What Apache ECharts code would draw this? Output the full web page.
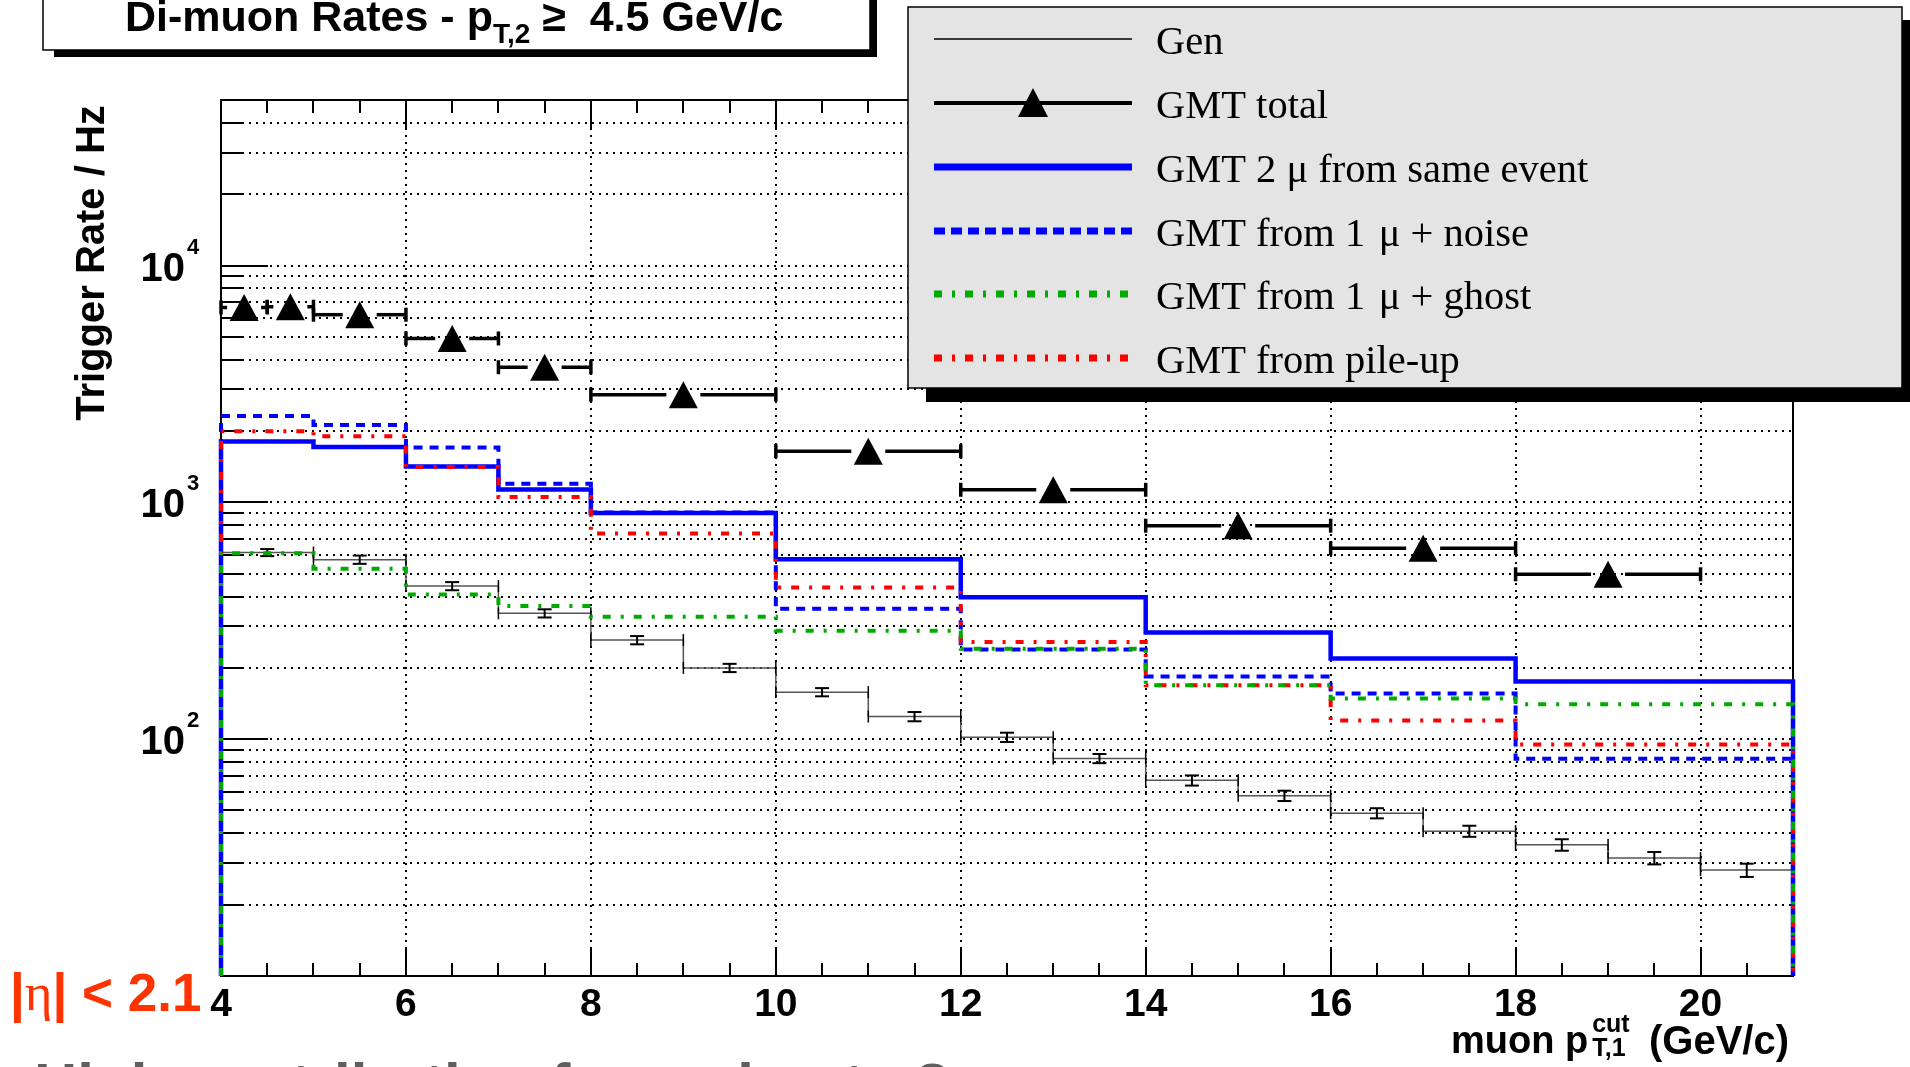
<!DOCTYPE html>
<html>
<head>
<meta charset="utf-8">
<script src="https://cdn.jsdelivr.net/npm/echarts@6/dist/echarts.min.js"></script>
<style>
  html, body { margin: 0; padding: 0; background: #fff; }
  #chart { width: 1910px; height: 1067px; }
</style>
</head>
<body>
<div id="chart"></div>
<script>
// GMT component histograms share these bin edges (GeV/c)
const binEdges = [4, 5, 6, 7, 8, 10, 12, 14, 16, 18, 21];
const sameEvent = [1807, 1711, 1418, 1134, 902, 575, 397, 282, 219, 175];
const muNoise   = [2315, 2121, 1705, 1199, 905, 355, 239, 184, 156, 82.6];
const muGhost   = [610, 524, 408, 365, 329, 287, 241, 169, 148.5, 140.5];
const pileUp    = [1995, 1900, 1409, 1053, 738, 437, 257, 169, 120, 95];

// generator level, 1 GeV bins
const genEdges = [4, 5, 6, 7, 8, 9, 10, 11, 12, 13, 14, 15, 16, 17, 18, 19, 20, 21];
const genRate  = [614, 573, 443, 340, 262, 200, 158, 124.6, 101.9, 82.9, 67.0, 57.7, 48.7, 40.9, 35.8, 31.5, 28.0];
const genErr   = [21, 23, 17.5, 13.5, 10.5, 8, 6.3, 5.6, 4.6, 3.7, 3.3, 2.9, 2.4, 2.2, 2.0, 1.9, 1.8];

// GMT total points with x error bars
const totalX    = [4.25, 4.75, 5.5, 6.5, 7.5, 9, 11, 13, 15, 17, 19];
const totalXErr = [0.25, 0.25, 0.5, 0.5, 0.5, 1, 1, 1, 1, 1, 1];
const totalRate = [6650, 6700, 6200, 4920, 3720, 2850, 1645, 1130, 797, 640, 497];

// axis ticks
const xMajorTicks = [4, 6, 8, 10, 12, 14, 16, 18, 20];
const xMinorTicks = [4.5, 5, 5.5, 6.5, 7, 7.5, 8.5, 9, 9.5, 10.5, 11, 11.5, 12.5, 13, 13.5,
                     14.5, 15, 15.5, 16.5, 17, 17.5, 18.5, 19, 19.5, 20.5];
const yMajorTicks = [100, 1000, 10000];
const yMajorExp   = ['2', '3', '4'];
const yMinorTicks = [20, 30, 40, 50, 60, 70, 80, 90, 200, 300, 400, 500, 600, 700, 800, 900,
                     2000, 3000, 4000, 5000, 6000, 7000, 8000, 9000, 20000, 30000, 40000];

const legendNames = ['Gen', 'GMT total', 'GMT 2 \u03bc from same event', 'GMT from 1 \u200a\u03bc + noise',
                     'GMT from 1 \u200a\u03bc + ghost', 'GMT from pile-up'];

const SANS = '"Liberation Sans", Arial, Helvetica, sans-serif';
const SERIF = '"Liberation Serif", "Times New Roman", serif';
const BLUE = '#0000ff', GREEN = '#00aa00', RED = '#ff0000';
const DASHDOT = [8, 10, 3, 10];
const Y_MIN = 10;

const mctx = document.createElement('canvas').getContext('2d');
function textWidth(t, font) { mctx.font = font; return mctx.measureText(t).width; }
function bold(px) { return 'bold ' + px + 'px ' + SANS; }
// middle-aligned y for a wanted baseline
function mid(base, px) { return base - 0.31 * px; }
function txt(x, y, text, font, fill, align) {
  return { type: 'text', x: x, y: y, z: 100,
    style: { text: text, font: font, fill: fill || '#000',
             align: align || 'left', textAlign: align || 'left',
             verticalAlign: 'middle', textVerticalAlign: 'middle' } };
}
function run(x, parts) {
  const out = [];
  parts.forEach(p => {
    out.push(txt(x, p.y, p.t, p.font, p.fill));
    x += textWidth(p.t, p.font);
  });
  return out;
}

function stepOutline(edges, vals, floor) {
  const pts = [];
  if (floor != null) pts.push([edges[0], floor]);
  vals.forEach((v, i) => { pts.push([edges[i], v], [edges[i + 1], v]); });
  if (floor != null) pts.push([edges[edges.length - 1], floor]);
  return pts;
}

function histSeries(name, vals, color, width, dash, z) {
  return {
    name: name, type: 'line', data: stepOutline(binEdges, vals, Y_MIN),
    symbol: 'none', clip: false, silent: true, z: z,
    lineStyle: { color: color, width: width, type: dash || 'solid', cap: 'butt', join: 'miter' }
  };
}

const chart = echarts.init(document.getElementById('chart'), null, { renderer: 'canvas' });

const yTickData = yMajorTicks.map(v => [4, v, 1]).concat(yMinorTicks.map(v => [4, v, 0]));
const xTickData = xMajorTicks.map(v => [v, 100, 1]).concat(xMinorTicks.map(v => [v, 100, 0]));

// ---- graphic elements: title box, legend, annotations ----
const graphics = [];
// title box with shadow
graphics.push({ type: 'rect', z: 90, shape: { x: 54, y: -10, width: 823, height: 67 }, style: { fill: '#000' } });
graphics.push({ type: 'rect', z: 91, shape: { x: 43, y: -10, width: 827, height: 60 },
  style: { fill: '#fff', stroke: '#000', lineWidth: 1.5 } });
graphics.push(...run(125, [
  { t: 'Di-muon Rates - p', font: bold(43), y: mid(32, 43) },
  { t: 'T,2', font: bold(28), y: mid(44, 28) },
  { t: ' \u2265  4.5 GeV/c', font: bold(43), y: mid(32, 43) }
]));

// legend box with shadow
graphics.push({ type: 'rect', z: 90, shape: { x: 926, y: 20, width: 1000, height: 382 }, style: { fill: '#000' } });
graphics.push({ type: 'rect', z: 91, shape: { x: 908, y: 7, width: 994, height: 381 },
  style: { fill: '#e4e4e4', stroke: '#000', lineWidth: 1.5 } });
const legRows = [39, 103, 167, 231, 294, 358];
const legStyles = [
  { stroke: '#000', lineWidth: 1.5 },
  { stroke: '#000', lineWidth: 4 },
  { stroke: BLUE, lineWidth: 7 },
  { stroke: BLUE, lineWidth: 7, lineDash: [11, 6] },
  { stroke: GREEN, lineWidth: 7, lineDash: DASHDOT },
  { stroke: RED, lineWidth: 7, lineDash: DASHDOT }
];
legRows.forEach((y, i) => {
  graphics.push({ type: 'line', z: 95, shape: { x1: 934, y1: y, x2: 1132, y2: y },
    style: Object.assign({ lineCap: 'butt' }, legStyles[i]) });
  graphics.push(txt(1156, mid(y + 17, 40.5), legendNames[i], '40.5px ' + SERIF));
});
graphics.push({ type: 'polygon', z: 96,
  shape: { points: [[1018, 117], [1048, 117], [1033, 88]] }, style: { fill: '#000' } });

// y axis title
graphics.push({ type: 'text', x: 93, y: 263, rotation: Math.PI / 2, z: 100,
  style: { text: 'Trigger Rate / Hz', font: bold(40), fill: '#000',
           align: 'center', textAlign: 'center', verticalAlign: 'middle', textVerticalAlign: 'middle' } });

// x axis title
const xtMain = bold(38), xtScript = bold(25);
const xtScriptX = 1451 + textWidth('muon p', xtMain) + 4;
graphics.push(txt(1451, mid(1054, 38), 'muon p', xtMain));
graphics.push(txt(xtScriptX, mid(1033, 25), 'cut', xtScript));
graphics.push(txt(xtScriptX, mid(1057, 25), 'T,1', xtScript));
graphics.push(txt(1789, mid(1055, 40), '(GeV/c)', bold(40), '#000', 'right'));

// eta range annotation
const ORANGE = '#ff3300';
graphics.push(...run(10, [
  { t: '|', font: bold(53), y: mid(1013, 53), fill: ORANGE },
  { t: '\u03b7', font: '53px ' + SERIF, y: mid(1013, 53), fill: ORANGE },
  { t: '|', font: bold(53), y: mid(1013, 53), fill: ORANGE },
  { t: ' < 2.1', font: bold(53), y: mid(1013, 53), fill: ORANGE }
]));

// slide text cut off at the bottom edge
graphics.push(txt(34, mid(1107, 60), 'High contribution from ghosts ?', bold(60), '#5f5f5f'));

chart.setOption({
  animation: false,
  backgroundColor: '#fff',
  grid: { left: 221, top: 100, right: 117, bottom: 91, show: true,
          borderColor: '#000', borderWidth: 2, backgroundColor: 'transparent',
          outerBoundsMode: 'none' },
  xAxis: {
    type: 'value', min: 4, max: 21, interval: 2,
    axisLine: { show: false }, axisTick: { show: false }, splitLine: { show: false },
    axisLabel: {
      margin: 10, color: '#000', fontFamily: SANS, fontWeight: 'bold', fontSize: 39,
      showMaxLabel: false,
      formatter: v => (v % 2 === 0 && v <= 20 ? String(v) : '')
    }
  },
  yAxis: {
    type: 'log', logBase: 10, min: Y_MIN, max: 50000,
    axisLine: { show: false }, axisTick: { show: false }, splitLine: { show: false },
    axisLabel: { show: false }
  },
  graphic: { elements: graphics },
  series: [
    // y grid lines, ticks and labels
    {
      type: 'custom', data: yTickData, z: 1, silent: true,
      encode: { x: 0, y: 1 },
      renderItem: (params, api) => {
        const cs = params.coordSys;
        const v = api.value(1), major = api.value(2) === 1;
        const y = Math.round(api.coord([4, v])[1]);
        const kids = [
          { type: 'line', shape: { x1: cs.x, y1: y, x2: cs.x + cs.width, y2: y },
            style: { stroke: '#000', lineWidth: 2, lineDash: [2, 5] } },
          { type: 'line', shape: { x1: cs.x, y1: y, x2: cs.x + (major ? 47 : 23), y2: y },
            style: { stroke: '#000', lineWidth: 2 } }
        ];
        if (major) {
          const e = yMajorExp[yMajorTicks.indexOf(v)];
          kids.push({ type: 'text', style: { text: '10', x: 185, y: y + 4, font: bold(40), fill: '#000',
            align: 'right', textAlign: 'right', verticalAlign: 'middle', textVerticalAlign: 'middle' } });
          kids.push({ type: 'text', style: { text: e, x: 187, y: y - 18, font: bold(22), fill: '#000',
            align: 'left', textAlign: 'left', verticalAlign: 'middle', textVerticalAlign: 'middle' } });
        }
        return { type: 'group', children: kids };
      }
    },
    // x grid lines and ticks (bottom and top)
    {
      type: 'custom', data: xTickData, z: 1, silent: true,
      encode: { x: 0, y: 1 },
      renderItem: (params, api) => {
        const cs = params.coordSys;
        const v = api.value(0), major = api.value(2) === 1;
        const x = Math.round(api.coord([v, 100])[0]);
        const len = major ? 28 : 13;
        const bot = cs.y + cs.height, top = cs.y;
        const kids = [
          { type: 'line', shape: { x1: x, y1: bot, x2: x, y2: bot - len }, style: { stroke: '#000', lineWidth: 2 } },
          { type: 'line', shape: { x1: x, y1: top, x2: x, y2: top + len }, style: { stroke: '#000', lineWidth: 2 } }
        ];
        if (major && v > 4) {
          kids.push({ type: 'line', shape: { x1: x, y1: top, x2: x, y2: bot },
            style: { stroke: '#000', lineWidth: 2, lineDash: [2, 5] } });
        }
        return { type: 'group', children: kids };
      }
    },
    // Gen histogram
    {
      name: 'Gen', type: 'line', data: stepOutline(genEdges, genRate, null),
      symbol: 'none', silent: true, z: 3,
      lineStyle: { color: '#555', width: 1.5 }
    },
    {
      type: 'custom', z: 4, silent: true,
      data: genRate.map((v, i) => [(genEdges[i] + genEdges[i + 1]) / 2, v, genErr[i], genEdges[i], genEdges[i + 1]]),
      encode: { x: 0, y: 1 },
      renderItem: (params, api) => {
        const xc = api.value(0), v = api.value(1), e = api.value(2);
        const lo = api.coord([api.value(3), v]), hi = api.coord([api.value(4), v]);
        const c = api.coord([xc, v]);
        const up = api.coord([xc, v + e])[1], dn = api.coord([xc, v - e])[1];
        const st = { stroke: '#000', lineWidth: 2 };
        return { type: 'group', children: [
          { type: 'line', shape: { x1: c[0], y1: up, x2: c[0], y2: dn }, style: st },
          { type: 'line', shape: { x1: c[0] - 7, y1: up, x2: c[0] + 7, y2: up }, style: st },
          { type: 'line', shape: { x1: c[0] - 7, y1: dn, x2: c[0] + 7, y2: dn }, style: st },
          { type: 'line', shape: { x1: lo[0], y1: lo[1] - 6, x2: lo[0], y2: lo[1] + 6 }, style: { stroke: '#000', lineWidth: 1.5 } },
          { type: 'line', shape: { x1: hi[0], y1: hi[1] - 6, x2: hi[0], y2: hi[1] + 6 }, style: { stroke: '#000', lineWidth: 1.5 } }
        ] };
      }
    },
    histSeries('GMT 2 mu from same event', sameEvent, BLUE, 4.5, 'solid', 5),
    histSeries('GMT from 1 mu + noise', muNoise, BLUE, 4, [9, 7], 6),
    histSeries('GMT from pile-up', pileUp, RED, 4, DASHDOT, 7),
    histSeries('GMT from 1 mu + ghost', muGhost, GREEN, 4, DASHDOT, 8),
    // GMT total: triangles with x error bars
    {
      type: 'custom', z: 9, silent: true,
      data: totalX.map((x, i) => [x, totalRate[i], totalXErr[i]]),
      encode: { x: 0, y: 1 },
      renderItem: (params, api) => {
        const xc = api.value(0), v = api.value(1), xe = api.value(2);
        const c = api.coord([xc, v]);
        const lo = api.coord([xc - xe, v]), hi = api.coord([xc + xe, v]);
        const gap = 17, cap = 7, w = 29, h = 27;
        const st = { stroke: '#000', lineWidth: 3.5 };
        const kids = [];
        if (c[0] - gap > lo[0]) kids.push({ type: 'line', shape: { x1: lo[0], y1: c[1], x2: c[0] - gap, y2: c[1] }, style: st });
        if (hi[0] > c[0] + gap) kids.push({ type: 'line', shape: { x1: c[0] + gap, y1: c[1], x2: hi[0], y2: c[1] }, style: st });
        kids.push({ type: 'line', shape: { x1: lo[0], y1: c[1] - cap, x2: lo[0], y2: c[1] + cap }, style: st });
        kids.push({ type: 'line', shape: { x1: hi[0], y1: c[1] - cap, x2: hi[0], y2: c[1] + cap }, style: st });
        kids.push({ type: 'polygon', shape: { points: [[c[0] - w / 2, c[1] + h / 2], [c[0] + w / 2, c[1] + h / 2], [c[0], c[1] - h / 2]] },
          style: { fill: '#000' } });
        return { type: 'group', children: kids };
      }
    }
  ]
});
</script>
</body>
</html>
